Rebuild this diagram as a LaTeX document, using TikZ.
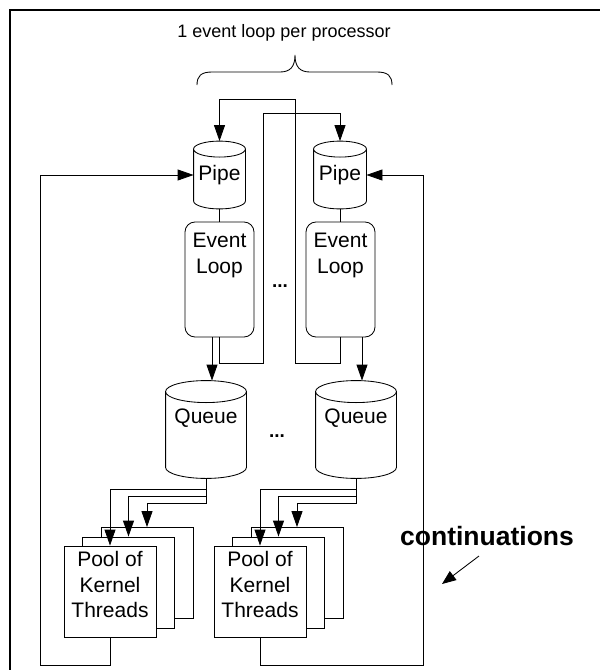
\documentclass[tikz,border=0pt]{standalone}
\usepackage{fontspec}
\setmainfont{Liberation Sans}
\usetikzlibrary{arrows.meta,calc}
\newcommand\cylof[2]{%
  \draw let \p1=(#1.north west), \p2=(#1.south east), \n1={(\x2-\x1)/2} in
    (\x1,\y1-#2pt) -- (\x1,\y2+#2pt)
    arc[start angle=180,end angle=360,x radius=\n1,y radius=#2pt]
    -- (\x2,\y1-#2pt)
    (\x1/2+\x2/2,\y1-#2pt) ellipse[x radius=\n1,y radius=#2pt];}
\begin{document}
\begin{tikzpicture}[x=1pt,y=1pt,
  line width=0.85pt,
  arr/.style={-{Triangle[length=16pt,width=11pt]}},
  sarr/.style={-{Triangle[length=14pt,width=11pt]}},
  txt/.style={font=\fontsize{21}{25.5}\selectfont, align=center, inner sep=0pt},
  cylnode/.style={inner sep=0pt, font=\fontsize{21}{25.5}\selectfont},
  elbox/.style={draw, rounded corners=10pt, minimum width=69pt, minimum height=115pt, inner sep=0pt},
  poolbox/.style={draw, fill=white, minimum width=92pt, minimum height=91pt, inner sep=0pt},
  dotsty/.style={font=\bfseries\fontsize{19}{20}\selectfont, inner sep=0pt, anchor=base},
]
\useasboundingbox (0,0) rectangle (600,-670);
% frame
\draw[line width=1.6pt] (10,-680) -- (10,-10) -- (610,-10);

% title and brace
\node[font=\fontsize{18}{20}\selectfont, inner sep=0pt] (title) at (284,-33) {1 event loop per processor};
\draw (197,-85) .. controls (197,-76) and (201,-72) .. (212,-72) -- (280,-72)
  .. controls (290,-72) and (295,-67) .. (295,-55)
  .. controls (295,-67) and (300,-72) .. (310,-72) -- (377,-72)
  .. controls (388,-72) and (392,-76) .. (392,-85);

% pipes
\node[cylnode, minimum width=51pt, minimum height=67pt] (pipeL) at (219.5,-175) {Pipe};
\node[cylnode, minimum width=52pt, minimum height=67pt] (pipeR) at (340,-175) {Pipe};
\cylof{pipeL}{8}
\cylof{pipeR}{8}

% event loops
\node[elbox] (elL) at (219.5,-279.5) {};
\node[elbox] (elR) at (340.5,-279.5) {};
\node[txt] (elLt) at (219.5,-255.6) {Event\\Loop};
\node[txt] (elRt) at (340.5,-255.6) {Event\\Loop};
\node[dotsty] (dotsA) at (280,-287.5) {...};

% queues
\node[cylnode, minimum width=80pt, minimum height=97pt] (qL) at (206,-429.5) {};
\node[cylnode, minimum width=80pt, minimum height=97pt] (qR) at (356,-429.5) {};
\cylof{qL}{11}
\cylof{qR}{11}
\node[txt] (qLt) at (206,-417.8) {Queue};
\node[txt] (qRt) at (356,-417.8) {Queue};
\node[dotsty] (dotsB) at (277,-437) {...};

% pools
\node[poolbox] (poolLc) at (147,-573) {};
\node[poolbox] (poolLb) at (128.5,-582.5) {};
\node[poolbox] (poolLa) at (110,-591.5) {};
\node[txt] (poolLt) at (110,-584.5) {Pool of\\Kernel\\Threads};
\node[poolbox] (poolRc) at (297,-573) {};
\node[poolbox] (poolRb) at (278.5,-582.5) {};
\node[poolbox] (poolRa) at (260,-591.5) {};
\node[txt] (poolRt) at (260,-584.5) {Pool of\\Kernel\\Threads};

% pipe -> event loop
\draw (pipeL.south) -- (pipeL.south |- elL.north);
\draw (pipeR.south) -- (pipeR.south |- elR.north);

% cross connections event loop -> pipes
\draw[arr] (elL.south) |- (263,-363) -- (263,-113) -| (pipeR.north);
\draw[arr] (elR.south) |- (295,-363) -- (295,-99) -| (pipeL.north);

% event loop -> queue
\coordinate (elLo) at ([xshift=-7.5pt]elL.south);
\coordinate (elRo) at ([xshift=21.5pt]elR.south);
\draw[arr] (elLo) -- (elLo |- qL.north);
\draw[arr] (elRo) -- (elRo |- qR.north);

% queue -> pools
\draw[arr] (qL.south) -- ++(0,-11) -| (poolLa.north);
\draw[arr] (qL.south) -- ++(0,-18) -| (poolLb.north);
\draw[arr] (qL.south) -- ++(0,-25) -| (poolLc.north);
\draw[arr] (qR.south) -- ++(0,-11) -| (poolRa.north);
\draw[arr] (qR.south) -- ++(0,-18) -| (poolRb.north);
\draw[arr] (qR.south) -- ++(0,-25) -| (poolRc.north);

% continuations feedback
\draw[arr] (poolLa.south) -- ++(0,-28) -| (40,-175) -- (pipeL.west);
\draw[arr] (poolRa.south) -- ++(0,-28) -| (423,-175) -- (pipeR.east);

\node[font=\bfseries\fontsize{26.5}{30}\selectfont, inner sep=0pt] (cont) at (487,-536) {continuations};
\coordinate (ca) at (479,-556);
\coordinate (cb) at (442,-584);
\draw[sarr] (ca) -- (cb);
\end{tikzpicture}
\end{document}
